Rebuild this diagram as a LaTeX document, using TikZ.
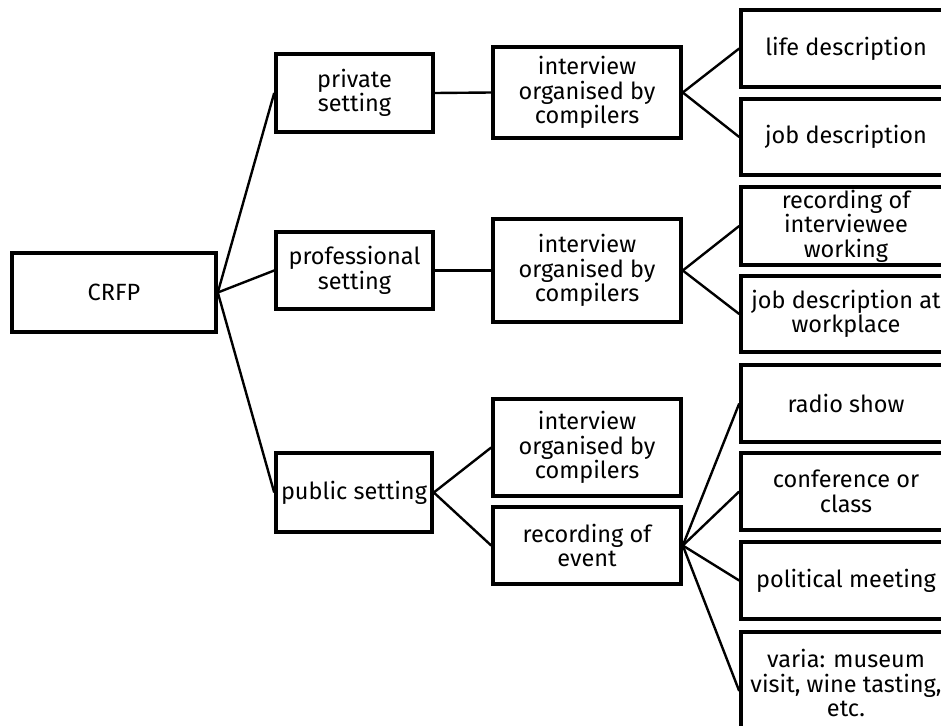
\documentclass[tikz,border=0pt]{standalone}
\usepackage{fontspec}
\setmainfont{Fira Sans}
\begin{document}
\begin{tikzpicture}[x=1pt,y=-1pt,
  box/.style={draw=black,line width=3.6pt,rectangle,inner sep=0pt,align=center,
    font=\fontsize{23.5}{24.5}\selectfont},
  link/.style={draw=black,line width=2.4pt}]
\useasboundingbox (0,0) rectangle (941,725);
\clip (0,0) rectangle (941,725);
% level 0
\node[box,minimum width=204pt,minimum height=79pt] (crfp) at (114,292.5) {CRFP};
% level 1
\node[box,minimum width=157pt,minimum height=78pt] (priv) at (354.5,93) {private\\setting};
\node[box,minimum width=157pt,minimum height=77pt] (prof) at (354.5,270.5) {professional\\setting};
\node[box,minimum width=156pt,minimum height=79pt] (pub) at (354,492.5) {public setting};
% level 2
\node[box,minimum width=188pt,minimum height=91pt] (int1) at (587,92.5) {interview\\organised by\\compilers};
\node[box,minimum width=188pt,minimum height=103pt] (int2) at (587,270.5) {interview\\organised by\\compilers};
\node[box,minimum width=188pt,minimum height=97pt] (int3) at (587,447.5) {interview\\organised by\\compilers};
\node[box,minimum width=188pt,minimum height=77pt] (rec) at (587,545.5) {recording of\\event};
% level 3
\node[box,minimum width=210pt,minimum height=77pt] (life) at (846,48.5) {life description};
\node[box,minimum width=210pt,minimum height=76pt] (job) at (846,137) {job description};
\node[box,minimum width=210pt,minimum height=78pt] (recint) at (846,226) {recording of\\interviewee\\working};
\node[box,minimum width=210pt,minimum height=76pt] (jobwp) at (846,314) {job description at\\workplace};
\node[box,minimum width=210pt,minimum height=77pt] (radio) at (846,403.5) {radio show};
\node[box,minimum width=210pt,minimum height=77pt] (conf) at (846,491.5) {conference or\\class};
\node[box,minimum width=210pt,minimum height=77pt] (pol) at (846,580.5) {political meeting};
\node[box,minimum width=210pt,minimum height=102pt] (varia) at (846,683) {varia: museum\\visit, wine tasting,\\etc.};
% connectors
\draw[link] (crfp.east) -- (priv.west);
\draw[link] (crfp.east) -- (prof.west);
\draw[link] (crfp.east) -- (pub.west);
\draw[link] (priv.east) -- (int1.west);
\draw[link] (prof.east) -- (int2.west);
\draw[link] (pub.east) -- (int3.west);
\draw[link] (pub.east) -- (rec.west);
\draw[link] (int1.east) -- (life.west);
\draw[link] (int1.east) -- (job.west);
\draw[link] (int2.east) -- (recint.west);
\draw[link] (int2.east) -- (jobwp.west);
\draw[link] (rec.east) -- (radio.west);
\draw[link] (rec.east) -- (conf.west);
\draw[link] (rec.east) -- (pol.west);
\draw[link] (rec.east) -- ([yshift=-8pt]varia.west);
\end{tikzpicture}
\end{document}
